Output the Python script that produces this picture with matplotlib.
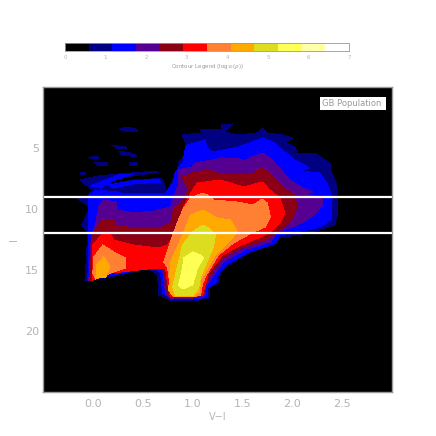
import matplotlib
matplotlib.use("Agg")
import matplotlib.pyplot as plt
from matplotlib.colors import ListedColormap
from matplotlib.patches import Rectangle
import numpy as np

# legend colours, one per contour bin from 0 to 7
level_colors = ["#000000", "#000080", "#0000ff", "#550090", "#8b0015", "#ff0000",
                "#ff8033", "#ffaa00", "#dddd20", "#ffff55", "#ffffaa", "#ffffff"]
legend_ticks = [0, 1, 2, 3, 4, 5, 6, 7]
x_ticks = [0.0, 0.5, 1.0, 1.5, 2.0, 2.5]
y_ticks = [5, 10, 15, 20]
cut_lines = [9, 12]

# contour outlines as (V-I, I)
navy_main = [(-0.08, 15.9), (-0.05, 11.97), (-0.11, 11.31), (-0.03, 9.84), (-0.15, 9.18), (-0.05, 8.93),
             (-0.01, 8.44), (-0.08, 7.95), (-0.125, 7.62), (0.05, 7.30), (0.255, 7.13), (0.645, 6.89),
             (0.71, 7.79), (0.74, 8.61), (0.85, 6.80), (0.86, 6.15), (0.93, 5.5), (0.93, 4.6),
             (0.895, 3.93), (1.095, 3.77), (1.075, 3.52), (1.295, 3.44), (1.295, 3.11), (1.405, 3.03),
             (1.325, 3.69), (1.455, 3.93), (1.645, 3.77), (1.705, 3.36), (1.755, 3.77), (1.905, 3.93),
             (2.005, 4.18), (1.925, 4.51), (2.025, 4.92), (2.045, 5.41), (2.225, 5.41), (2.375, 6.23),
             (2.395, 7.05), (2.445, 8.03), (2.455, 9.02), (2.455, 10.33), (2.425, 11.31), (2.205, 11.89),
             (1.86, 12.38), (1.85, 12.79), (1.58, 13.52), (1.36, 14.59), (1.28, 15.25), (1.26, 16.07),
             (1.17, 16.39), (1.17, 17.3), (1.0, 17.54), (0.78, 17.46), (0.66, 17.05), (0.65, 15.41),
             (0.58, 15.0), (0.48, 15.0), (0.18, 15.57)]
navy_streaks = [
    [(0.27, 3.4), (0.36, 3.3), (0.45, 3.5), (0.44, 3.65), (0.3, 3.6)],
    [(0.20, 4.8), (0.33, 4.9), (0.34, 5.1), (0.24, 5.0)],
    [(-0.04, 5.75), (0.05, 5.7), (0.06, 5.85), (-0.03, 5.9)],
    [(0.27, 5.3), (0.36, 5.35), (0.44, 5.6), (0.43, 5.75), (0.34, 5.6), (0.28, 5.55)],
    [(0.01, 6.15), (0.15, 6.2), (0.15, 6.4), (0.05, 6.4)],
    [(0.37, 6.2), (0.45, 6.15), (0.45, 6.4), (0.37, 6.4)],
    [(-0.12, 7.05), (-0.08, 7.0), (-0.07, 7.15), (-0.12, 7.15)],
]
blue_main = [(-0.05, 15.82), (-0.04, 11.97), (-0.04, 9.51), (-0.04, 8.93), (0.025, 8.44), (0.255, 8.61),
             (0.295, 8.77), (0.725, 8.77), (0.755, 8.44), (0.805, 7.87), (0.825, 7.05), (0.905, 6.15),
             (0.925, 5.16), (0.945, 4.75), (1.125, 4.34), (1.145, 5.0), (1.205, 5.33), (1.455, 4.92),
             (1.705, 4.18), (1.825, 4.59), (1.875, 5.0), (2.025, 5.98), (2.175, 6.64), (2.075, 6.89),
             (2.275, 7.05), (2.355, 8.03), (2.395, 9.02), (2.395, 10.9), (2.245, 11.56), (1.875, 12.13),
             (1.83, 12.79), (1.56, 13.52), (1.33, 14.59), (1.25, 15.41), (1.23, 16.07), (1.15, 16.48),
             (1.15, 17.21), (1.0, 17.38), (0.78, 17.3), (0.70, 16.89), (0.68, 15.25), (0.65, 15.0),
             (0.48, 14.92), (0.16, 15.49)]
blue_streaks = [
    [(-0.025, 8.11), (0.255, 7.21), (0.395, 7.13), (0.195, 7.72), (0.075, 8.28)],
    [(0.155, 8.03), (0.395, 7.7), (0.655, 7.54), (0.675, 7.79), (0.395, 7.95), (0.205, 8.28)],
]
black_wedge = [(0.195, 7.8), (0.375, 7.4), (0.655, 7.1), (0.735, 7.25), (0.695, 7.4), (0.395, 7.55)]
purple_main = [(0.03, 11.15), (0.06, 9.84), (0.10, 9.26), (0.23, 9.43), (0.25, 10.08), (0.41, 10.33),
               (0.61, 10.16), (0.78, 9.84), (0.83, 8.61), (0.86, 8.03), (0.855, 6.8), (0.995, 6.56),
               (1.025, 6.23), (1.255, 5.9), (1.455, 5.82), (1.505, 6.07), (1.705, 5.41), (1.775, 5.82),
               (1.875, 6.64), (1.975, 7.62), (2.105, 8.28), (2.205, 8.61), (2.125, 8.77), (2.305, 9.1),
               (2.305, 9.67), (2.195, 10.66), (2.005, 11.48), (1.85, 11.89), (1.78, 12.7), (1.51, 13.36),
               (1.31, 14.34), (1.21, 15.41), (1.16, 16.07), (1.13, 16.39), (1.11, 17.21), (1.0, 17.3),
               (0.78, 17.3), (0.73, 16.89), (0.70, 15.0), (0.65, 14.92), (0.48, 14.92), (0.18, 15.25),
               (-0.04, 15.82), (-0.02, 12.79), (0.0, 11.89)]
darkred_main = [(0.10, 10.9), (0.23, 10.9), (0.23, 11.31), (0.41, 11.56), (0.68, 11.56), (0.78, 11.15),
                (0.81, 10.08), (0.90, 9.26), (0.96, 8.44), (0.895, 7.38), (0.995, 7.05), (1.155, 6.8),
                (1.295, 7.21), (1.575, 7.21), (1.695, 6.64), (1.775, 7.05), (1.905, 8.2), (2.025, 8.85),
                (2.045, 9.84), (2.005, 10.74), (1.91, 11.48), (1.85, 11.89), (1.73, 12.54), (1.48, 13.2),
                (1.30, 14.02), (1.20, 15.16), (1.13, 16.07), (1.11, 17.05), (1.0, 17.3), (0.78, 17.21),
                (0.75, 16.8), (0.71, 14.92), (0.61, 14.84), (0.18, 15.25), (-0.03, 15.9), (-0.01, 12.54),
                (0.0, 11.97)]
red_main = [(0.0, 12.95), (0.10, 11.97), (0.18, 12.13), (0.21, 12.54), (0.41, 12.95), (0.65, 13.2),
            (0.75, 12.95), (0.83, 11.97), (0.91, 9.84), (1.0, 8.44), (1.05, 7.87), (1.28, 7.62),
            (1.51, 8.2), (1.70, 7.79), (1.775, 8.44), (1.875, 9.1), (1.925, 10.33), (1.875, 11.15),
            (1.775, 11.89), (1.68, 12.3), (1.45, 13.11), (1.30, 13.77), (1.16, 15.25), (1.10, 17.05),
            (1.0, 17.21), (0.78, 17.21), (0.76, 16.64), (0.73, 14.92), (0.63, 14.84), (0.18, 15.25),
            (0.0, 15.82), (0.0, 13.93)]
orange_main = [(1.10, 8.69), (0.98, 9.1), (0.90, 10.08), (0.83, 11.48), (0.71, 14.34), (0.75, 14.84),
               (0.78, 16.64), (0.81, 17.21), (1.0, 17.21), (1.08, 17.05), (1.10, 16.07), (1.15, 15.25),
               (1.26, 13.77), (1.41, 12.79), (1.61, 11.89), (1.73, 11.48), (1.78, 10.66), (1.75, 9.51),
               (1.70, 9.18), (1.61, 9.67), (1.45, 9.43), (1.21, 9.26), (1.15, 8.85)]
orange_left = [(0.0, 15.25), (0.01, 13.93), (0.10, 12.95), (0.21, 13.52), (0.33, 14.02), (0.33, 14.84),
               (0.18, 15.25), (0.03, 15.74)]
amber_main = [(1.10, 10.08), (0.98, 10.49), (0.90, 12.13), (0.78, 14.34), (0.76, 16.64), (0.81, 17.21),
              (1.0, 17.21), (1.07, 16.8), (1.08, 15.82), (1.23, 13.77), (1.38, 12.54), (1.45, 11.89),
              (1.38, 10.9), (1.25, 10.74), (1.16, 10.33)]
amber_left = [(0.03, 15.66), (0.04, 14.59), (0.11, 13.93), (0.17, 14.75), (0.13, 15.57)]
green_main = [(1.10, 11.31), (1.0, 11.89), (0.90, 12.95), (0.80, 16.39), (0.83, 17.13), (1.0, 17.13),
              (1.06, 16.48), (1.08, 15.57), (1.21, 13.11), (1.23, 12.13), (1.16, 11.56)]
yellow_main = [(1.0, 13.52), (0.91, 14.02), (0.90, 14.84), (0.86, 16.23), (0.90, 16.56), (1.0, 16.23),
               (1.05, 14.84), (1.11, 14.02), (1.08, 13.77)]

# painted in this order, inner contours over outer ones
layers = [(1, navy_main)] + [(1, s) for s in navy_streaks] + [(0, black_wedge), (2, blue_main)]
layers += [(2, s) for s in blue_streaks]
layers += [(3, purple_main), (4, darkred_main), (5, red_main), (6, orange_main), (6, orange_left),
           (7, amber_main), (7, amber_left), (8, green_main), (9, yellow_main)]

grey = "#b4b4b4"
W, H = 436, 436
fig = plt.figure(figsize=(W / 100, H / 100), dpi=100)

ax = fig.add_axes([43 / W, 1 - 392 / H, 349 / W, 305 / H], facecolor="black")
for idx, outline in layers:
    xs, ys = zip(*outline)
    ax.fill(xs, ys, color=level_colors[idx], lw=0, antialiased=False)
ax.hlines(cut_lines, -0.5, 3.0, color="white", lw=1.6)
ax.set_xlim(-0.5, 3.0)
ax.set_ylim(25, 0)
ax.set_xticks(x_ticks, [f"{v:.1f}" for v in x_ticks])
ax.set_yticks(y_ticks, [str(v) for v in y_ticks])
ax.tick_params(length=0, colors=grey, labelsize=8, pad=3)
ax.tick_params(axis="x", pad=5)
ax.set_xlabel("V−I", color=grey, fontsize=7, labelpad=2)
ax.set_ylabel("I", color=grey, fontsize=7, labelpad=4)
for sp in ax.spines.values():
    sp.set_color("#999999")
    sp.set_linewidth(1)
ax.add_patch(Rectangle((0.794, 0.925), 0.189, 0.043, transform=ax.transAxes, fc="white", ec="none"))
ax.text(0.799, 0.9465, "GB Population", transform=ax.transAxes, ha="left", va="center", fontsize=6,
        color="#999999")

# contour legend bar
cax = fig.add_axes([65 / W, 1 - 51 / H, 284 / W, 8 / H])
edges = np.linspace(0, 7, len(level_colors) + 1)
cax.pcolormesh(edges, [0, 1], np.arange(len(level_colors)).reshape(1, -1), cmap=ListedColormap(level_colors))
cax.set_yticks([])
cax.set_xticks(legend_ticks)
cax.tick_params(length=0, colors=grey, labelsize=4, pad=3)
cax.set_xlabel("Contour Legend (log$_{10}$($\\rho$))", color="#999999", fontsize=4, labelpad=1)
for sp in cax.spines.values():
    sp.set_color("#999999")
    sp.set_linewidth(0.6)

fig.savefig("out.png", dpi=100)
